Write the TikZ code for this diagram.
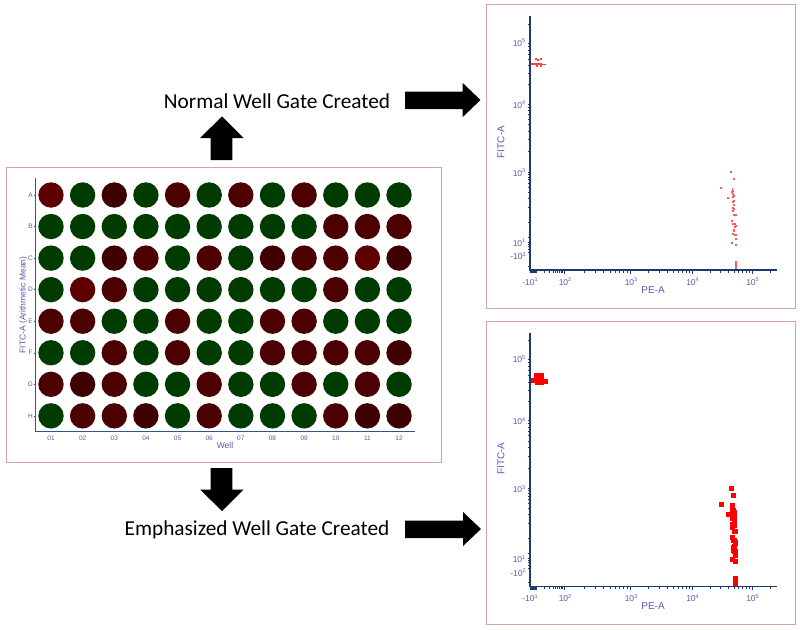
\documentclass[tikz,border=0pt]{standalone}
\usepackage{fontspec}
\setmainfont{Liberation Sans}
\newfontfamily\capfont{Carlito}
\definecolor{frameC}{HTML}{D6A3A3}
\definecolor{axisC}{HTML}{1C3A6E}
\definecolor{plateaxis}{HTML}{34558A}
\definecolor{labelC}{HTML}{5A5AB4}
\definecolor{colG}{HTML}{003C00}
\definecolor{colr}{HTML}{4C0000}
\definecolor{colb}{HTML}{5E0000}
\definecolor{cold}{HTML}{3E0000}
\newcommand{\tinylab}[2]{#1\raisebox{3.5pt}{\fontsize{5.5}{5.5}\selectfont #2}}
\newcommand{\topdots}{531/64,533/64,535/64,537/64,539/64,541/64,543/64.5,545/64.5,536/59,538/60,541/59,537/66,541/66}
\newcommand{\sidedots}{731/171.7,733.7/179.3,721.3/188,732.5/189,732.7/190.7,732.3/192.3,733.3/194.3,734.3/195.7,732.7/196.7,733.3/197.3,728/198.3,734.3/201,732.7/202.3,734/205,732.7/208,734.3/208.7,732.7/211.3,734/215,735.7/215,732/220.7,733.3/224,734.7/224,735.7/226.3,735/227.3,734/230,733.7/231,733.3/234,734.7/235,735.7/235,735.7/238.7,732/242.7,735.7/245,735.7/261.7,735.7/263.7,735.7/266,735.7/268.3}
\tikzset{
  x=1pt,y=-1pt,
  framebox/.style={draw=frameC,line width=1pt,fill=white},
  well/.style={circle,inner sep=0pt,minimum size=25.4pt},
  bigarrow/.style={fill=black},
  caption/.style={font=\capfont\fontsize{21.3}{24}\selectfont,text=black,inner sep=0pt},
  plateaxisline/.style={draw=plateaxis,line width=1.5pt},
  flowaxis/.style={draw=axisC,line width=1.6pt},
  flowtick/.style={draw=axisC,line width=0.7pt},
  ticklab/.style={font=\fontsize{6.5}{7}\selectfont,text=labelC,inner sep=0pt},
  axlab/.style={font=\fontsize{8.5}{10}\selectfont,text=labelC,inner sep=0pt},
  flowlab/.style={font=\fontsize{8.5}{9}\selectfont,text=labelC,inner sep=0pt,anchor=base},
  flowname/.style={font=\fontsize{10}{11}\selectfont,text=labelC,inner sep=0pt},
}
\newcommand{\xdecade}[2]{\foreach \m in {0,0.301,0.477,0.602,0.699,0.778,0.845,0.903,0.954}{\pgfmathsetmacro{\px}{#1+\m*(#2-#1)}\draw[flowtick] (\px,270) -- (\px,272.5);}}
\newcommand{\ydecade}[2]{\foreach \m in {0,0.301,0.477,0.602,0.699,0.778,0.845,0.903,0.954}{\pgfmathsetmacro{\py}{#1+\m*(#2-#1)}\draw[flowtick] (527.5,\py) -- (530,\py);}}
\newcommand{\flowplot}[2]{%
  \begin{scope}[yshift=#1]
    \xdecade{564}{630}\xdecade{630}{692}\xdecade{692}{752}
    \xdecade{536}{564}
    \draw[flowtick] (752,270) -- (752,273.5) (770,270) -- (770,272.5) (630,270) -- (630,273.5) (692,270) -- (692,273.5) (564,270) -- (564,273.5);
    \fill[axisC] (530,270) rectangle (537,273);
    \ydecade{104}{40}\ydecade{172}{104}\ydecade{222}{172}
    \draw[flowtick] (527.5,24) -- (530,24) (527.5,242) -- (530,242) (527.5,237) -- (530,237) (527.5,244) -- (530,244) (527.5,246) -- (530,246) (527.5,249) -- (530,249) (527.5,252) -- (530,252) (527.5,266) -- (530,266);
    \draw[flowaxis] (530,16) -- (530,270) -- (777,270);
    \node[flowlab] (#2y5) at (519,46) {\tinylab{10}{5}};
    \node[flowlab] (#2y4) at (519,108) {\tinylab{10}{4}};
    \node[flowlab] (#2y3) at (519,176) {\tinylab{10}{3}};
    \node[flowlab] (#2y1) at (519,246) {\tinylab{10}{1}};
    \node[flowlab] (#2ym) at (518,259.5) {\tinylab{-10}{2}};
    \node[flowlab] (#2xm) at (530,285) {\tinylab{-10}{1}};
    \node[flowlab] (#2x2) at (565,285) {\tinylab{10}{2}};
    \node[flowlab] (#2x3) at (631,285) {\tinylab{10}{3}};
    \node[flowlab] (#2x4) at (692.5,285) {\tinylab{10}{4}};
    \node[flowlab] (#2x5) at (752.5,285) {\tinylab{10}{5}};
    \node[flowname] (#2xn) at (653,290) {PE-A};
    \node[flowname,rotate=90] (#2yn) at (501,142) {FITC-A};
  \end{scope}}
\begin{document}
\begin{tikzpicture}
\useasboundingbox (0,0) rectangle (800,629);
\fill[white] (0,0) rectangle (800,629);
% frames
\draw[framebox] (6,167) rectangle (441,462);
\draw[framebox] (486,4) rectangle (795,308);
\draw[framebox] (486,321) rectangle (795,624);
% arrows
\fill[bigarrow] (222,116.5) -- (243.5,138) -- (232.3,138) -- (232.3,160) -- (210.7,160) -- (210.7,138) -- (200,138) -- cycle;
\fill[bigarrow] (222,511) -- (243.5,489.5) -- (232.3,489.5) -- (232.3,468) -- (210.7,468) -- (210.7,489.5) -- (200,489.5) -- cycle;
\fill[bigarrow] (480.5,100) -- (462.7,83) -- (462.7,91.5) -- (405,91.5) -- (405,109) -- (462.7,109) -- (462.7,117) -- cycle;
\fill[bigarrow] (481,529) -- (463,512) -- (463,520.5) -- (405,520.5) -- (405,538) -- (463,538) -- (463,546) -- cycle;
% captions
\node[caption] (normal) at (277,101) {Normal Well Gate Created};
\node[caption] (emph) at (257,530) {Emphasized Well Gate Created};
% wells
\foreach \row [count=\i] in {{b,G,d,G,r,G,r,G,r,G,G,G},{G,G,G,G,G,G,G,G,G,r,r,r},{G,G,d,r,G,r,G,d,r,r,b,d},{G,b,r,G,G,G,G,G,G,r,G,G},{r,r,G,G,r,G,G,r,r,G,G,G},{G,G,r,G,r,G,G,r,r,r,r,d},{r,d,r,G,G,r,G,G,r,G,r,G},{G,r,r,d,G,r,G,G,G,r,d,d}}{
  \foreach \c [count=\j] in \row {
    \pgfmathsetmacro{\wx}{51+(\j-1)*31.64}
    \pgfmathsetmacro{\wy}{195+(\i-1)*31.55}
    \node[well,fill=col\c] (w\i-\j) at (\wx,\wy) {};
  }
}
% plate axes
\foreach \l [count=\i] in {A,B,C,D,E,F,G,H}{
  \pgfmathsetmacro{\wy}{195+(\i-1)*31.55}
  \draw[draw=plateaxis,line width=0.5pt] (33.5,\wy) -- (35.5,\wy);
  \node[ticklab] (row\l) at (30.5,\wy) {\l};
}
\foreach \l [count=\j] in {01,02,03,04,05,06,07,08,09,10,11,12}{
  \pgfmathsetmacro{\wx}{51+(\j-1)*31.64}
  \node[ticklab] (col\l) at (\wx,438) {\l};
}
\draw[plateaxisline] (35.5,178) -- (35.5,431.7) -- (415,431.7);
\node[axlab] (wellname) at (225,445) {Well};
\node[axlab,rotate=90] (meanname) at (23.5,305) {FITC-A (Arithmetic Mean)};
% flow plots
\foreach \xx/\yy in \topdots {\fill[red!75] (\xx-0.9,\yy-0.9) rectangle (\xx+0.9,\yy+0.9);}
\foreach \xx/\yy in \sidedots {\fill[red!65] (\xx-0.9,\yy-0.9) rectangle (\xx+0.9,\yy+0.9);}
\begin{scope}[shift={(0,316.5)}]
\foreach \xx/\yy in \topdots {\fill[red] (\xx-2.5,\yy-2.5) rectangle (\xx+2.5,\yy+2.5);}
\foreach \xx/\yy in \sidedots {\fill[red] (\xx-2.5,\yy-2.5) rectangle (\xx+2.5,\yy+2.5);}
\end{scope}
\flowplot{0pt}{t}
\flowplot{-316.5pt}{b}
\end{tikzpicture}
\end{document}
